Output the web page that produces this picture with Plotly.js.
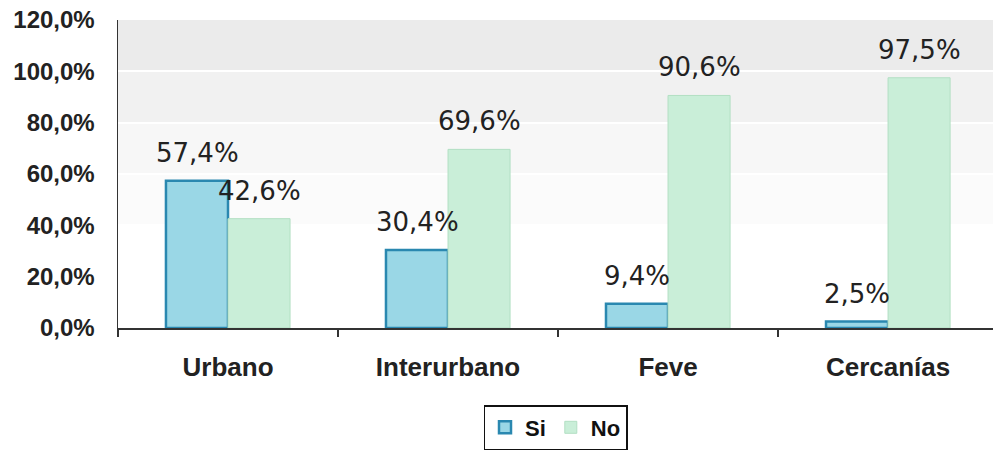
<!DOCTYPE html>
<html><head><meta charset="utf-8">
<script src="https://cdn.plot.ly/plotly-3.0.1.min.js"></script>
<style>html,body{margin:0;padding:0;background:#fff;}#c{width:993px;height:453px;}</style>
</head><body><div id="c"></div>
<script>
const categories = ['Urbano', 'Interurbano', 'Feve', 'Cercanías'];
const si = [57.4, 30.4, 9.4, 2.5];
const no = [42.6, 69.6, 90.6, 97.5];
const yTicks = [0, 20, 40, 60, 80, 100, 120];
const yTickLabels = ['0,0%', '20,0%', '40,0%', '60,0%', '80,0%', '100,0%', '120,0%'];

const fmt = v => v.toFixed(1).replace('.', ',') + '%';
const labelFont = {family: 'DejaVu Sans, Verdana, sans-serif', size: 26, color: '#222'};

const traces = [
  {type: 'bar', name: 'Si', x: categories, y: si,
   marker: {color: '#9ad7e6', line: {color: '#2a88b0', width: 2.5}}},
  {type: 'bar', name: 'No', x: categories, y: no,
   marker: {color: '#c9eed8', line: {color: '#b2dfc3', width: 1}}}
];

const annotations = [];
categories.forEach((c, i) => {
  annotations.push({x: c, y: si[i], xref: 'x', yref: 'y', text: fmt(si[i]), showarrow: false,
    xshift: -31, yshift: 11, yanchor: 'bottom', font: labelFont});
  annotations.push({x: c, y: no[i], xref: 'x', yref: 'y', text: fmt(no[i]), showarrow: false,
    xshift: 31, yshift: 11, yanchor: 'bottom', font: labelFont});
});

const bands = [
  {y0: 100, y1: 120, c: '#ebebeb'},
  {y0: 80, y1: 100, c: '#f1f1f1'},
  {y0: 60, y1: 80, c: '#f7f7f7'},
  {y0: 40, y1: 60, c: '#fbfbfb'}
];
const shapes = bands.map(b => ({type: 'rect', xref: 'paper', yref: 'y', x0: 0, x1: 1,
  y0: b.y0, y1: b.y1, fillcolor: b.c, line: {width: 0}, layer: 'below'}));

const layout = {
  width: 993, height: 453,
  margin: {l: 118, r: 0, t: 20, b: 125},
  paper_bgcolor: '#fff', plot_bgcolor: '#fff',
  barmode: 'group', bargap: 0.436, bargroupgap: 0,
  showlegend: true,
  legend: {orientation: 'h', x: 0.5, xanchor: 'center', y: -0.25, yanchor: 'top',
    bordercolor: '#111', borderwidth: 1.5, bgcolor: '#fff',
    font: {family: 'Liberation Sans, Arial, sans-serif', size: 22, color: '#111', weight: 'bold'},
    itemwidth: 30, traceorder: 'normal'},
  xaxis: {range: [-0.5, 3.477], showline: true, linecolor: '#333', linewidth: 1.5,
    ticks: 'outside', tickson: 'boundaries', ticklen: 7, tickcolor: '#333', tickwidth: 1.5,
    ticklabelstandoff: 15,
    tickfont: {family: 'Liberation Sans, Arial, sans-serif', size: 26, color: '#222', weight: 'bold'},
    fixedrange: true},
  yaxis: {range: [0, 120], tickvals: yTicks, ticktext: yTickLabels,
    showline: true, linecolor: '#333', linewidth: 1.5,
    showgrid: true, gridcolor: '#ffffff', gridwidth: 2, zeroline: false,
    ticks: '', ticklabelstandoff: 17,
    tickfont: {family: 'Liberation Sans, Arial, sans-serif', size: 24, color: '#222', weight: 'bold'}},
  shapes: shapes,
  annotations: annotations
};
Plotly.newPlot('c', traces, layout, {displayModeBar: false, staticPlot: true});
</script></body></html>
